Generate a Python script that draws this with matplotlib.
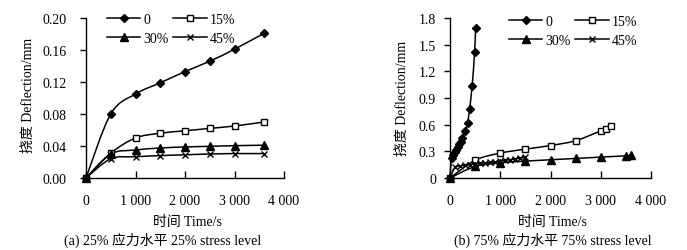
import matplotlib.pyplot as plt
from matplotlib.path import Path
from matplotlib.patches import PathPatch
from matplotlib.lines import Line2D
import numpy as np

plt.rcParams['font.family'] = ['Liberation Serif', 'Noto Sans CJK SC']

# (a) 25% 应力水平
t_a = [0, 500, 1000, 1500, 2000, 2500, 3000, 3600]
a_0 = [0, 0.080, 0.105, 0.119, 0.133, 0.146, 0.161, 0.181]
a_15 = [0, 0.031, 0.050, 0.056, 0.059, 0.062, 0.065, 0.070]
a_30 = [0, 0.030, 0.035, 0.0375, 0.0388, 0.0396, 0.0404, 0.041]
a_45 = [0, 0.024, 0.0265, 0.028, 0.029, 0.030, 0.0305, 0.0305]

# (b) 75% 应力水平
t_b0 = [0, 30, 60, 90, 120, 150, 180, 210, 240, 300, 350, 390, 440, 490, 510]
b_0 = [0, 0.23, 0.26, 0.29, 0.32, 0.35, 0.38, 0.41, 0.45, 0.53, 0.62, 0.78, 1.03, 1.42, 1.69]
t_b15 = [0, 500, 1000, 1500, 2000, 2500, 3000, 3100, 3200]
b_15 = [0, 0.20, 0.28, 0.325, 0.365, 0.42, 0.53, 0.555, 0.59]
t_b30 = [0, 500, 1000, 1500, 2000, 2500, 3000, 3500, 3600]
b_30 = [0, 0.13, 0.17, 0.19, 0.205, 0.22, 0.235, 0.25, 0.255]
t_b45 = [0, 100, 200, 300, 400, 500, 600, 700, 800, 900, 1000, 1100, 1200, 1300, 1400, 1500]
b_45 = [0, 0.12, 0.135, 0.145, 0.15, 0.16, 0.165, 0.17, 0.175, 0.18, 0.19, 0.20, 0.205, 0.215, 0.225, 0.235]

labels = ['0', '15%', '30%', '45%']
markers = [('D', 'black', 4.5), ('s', 'white', 5.0), ('^', 'black', 5.5), ('x', 'black', 5.0)]

FS = 10


def smooth_path(x, y):
    # Excel 风格平滑线 (Catmull-Rom -> Bezier)
    pts = np.column_stack([x, y]).astype(float)
    n = len(pts)
    verts = [pts[0]]
    codes = [Path.MOVETO]
    for i in range(n - 1):
        p0 = pts[i - 1] if i > 0 else pts[i]
        p1 = pts[i]
        p2 = pts[i + 1]
        p3 = pts[i + 2] if i + 2 < n else pts[i + 1]
        verts += [p1 + (p2 - p0) / 6, p2 - (p3 - p1) / 6, p2]
        codes += [Path.CURVE4] * 3
    return Path(verts, codes)


def draw(ax, series, ylim, yticks, yticklabels, ypad, ylab_x, ylab_y, leg_x, leg_y):
    for (x, y), (m, fc, ms) in zip(series, markers):
        ax.add_patch(PathPatch(smooth_path(x, y), facecolor='none', edgecolor='black',
                               lw=1.1, clip_on=False, zorder=2))
        ax.plot(x, y, linestyle='none', marker=m, ms=ms, mfc=fc, mec='black',
                mew=1.0, clip_on=False, zorder=3)
    ax.set_xlim(0, 4000)
    ax.set_ylim(*ylim)
    ax.set_xticks([0, 1000, 2000, 3000, 4000])
    ax.set_xticklabels(['0', '1 000', '2 000', '3 000', '4 000'], fontsize=FS)
    ax.set_yticks(yticks)
    ax.set_yticklabels(yticklabels, fontsize=FS)
    ax.tick_params(axis='y', direction='out', length=4, pad=ypad, width=1)
    ax.tick_params(axis='x', direction='in', length=5, pad=11.5, width=1)
    for s in ['top', 'right']:
        ax.spines[s].set_visible(False)
    for s in ['left', 'bottom']:
        ax.spines[s].set_linewidth(1.0)
    ax.set_ylabel('挠度 Deflection/mm', fontsize=FS)
    ax.yaxis.set_label_coords(ylab_x, ylab_y)
    ax.yaxis.label.set_va('center')
    ax.set_xlabel('时间 Time/s', fontsize=FS)
    ax.xaxis.set_label_coords(0.51, -0.27)
    ax.xaxis.label.set_va('center')

    handles = [Line2D([], [], color='black', lw=1.1, marker=m, ms=ms, mfc=fc,
                      mec='black', mew=1.0) for m, fc, ms in markers]
    order = [0, 2, 1, 3]
    ax.legend([handles[i] for i in order], [labels[i] for i in order], ncol=2,
              loc='upper left', bbox_to_anchor=(leg_x, leg_y),
              bbox_transform=ax.figure.transFigure, frameon=False, fontsize=FS,
              handlelength=2.4, handletextpad=0.2, columnspacing=0.35,
              labelspacing=0.45, borderpad=0, borderaxespad=0)


fig = plt.figure(figsize=(6.87, 2.51), dpi=100)
W, H = 687, 251
ax1 = fig.add_axes([86 / W, 1 - 179 / H, 198 / W, 160 / H])
ax2 = fig.add_axes([450 / W, 1 - 179 / H, 201 / W, 160 / H])

draw(ax1, [(t_a, a_0), (t_a, a_15), (t_a, a_30), (t_a, a_45)],
     (0, 0.20), [0, 0.04, 0.08, 0.12, 0.16, 0.20],
     ['0.00', '0.04', '0.08', '0.12', '0.16', '0.20'], 10,
     (28 - 86) / 198, 0.525, 107 / W, 1 - 14 / H)

draw(ax2, [(t_b0, b_0), (t_b15, b_15), (t_b30, b_30), (t_b45, b_45)],
     (0, 1.8), [0, 0.3, 0.6, 0.9, 1.2, 1.5, 1.8],
     ['0', '0.3', '0.6', '0.9', '1.2', '1.5', '1.8'], 6,
     (402 - 450) / 201, 0.506, 509 / W, 1 - 16 / H)

fig.text(163 / W, 1 - 240 / H, '(a) 25% 应力水平 25% stress level', fontsize=FS,
         ha='center', va='center')
fig.text(553 / W, 1 - 240 / H, '(b) 75% 应力水平 75% stress level', fontsize=FS,
         ha='center', va='center')

fig.savefig('out.png', dpi=100)
